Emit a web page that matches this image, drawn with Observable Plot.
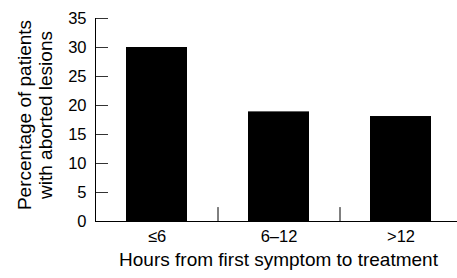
<!DOCTYPE html>
<html>
<head>
<meta charset="utf-8">
<script src="https://cdn.jsdelivr.net/npm/d3@7"></script>
<script src="https://cdn.jsdelivr.net/npm/@observablehq/plot@0.6"></script>
<style>
  html, body { margin: 0; padding: 0; background: #fff; }
  #chart svg { display: block; }
</style>
</head>
<body>
<div id="chart"></div>
<script>
const categories = ["≤6", "6–12", ">12"];
const values = [30, 18.9, 18.1];
const yTicks = [0, 5, 10, 15, 20, 25, 30, 35];
const xTitle = "Hours from first symptom to treatment";
const yTitle = "Percentage of patients\nwith aborted lesions";

const data = categories.map((c, i) => ({category: c, value: values[i]}));
const separators = categories.slice(0, -1);

const width = 457, height = 278;
const marginLeft = 95, marginRight = -4, marginTop = 18, marginBottom = 57;
const step = (width - marginLeft - marginRight) / categories.length;
const font = "'Liberation Sans', Arial, sans-serif";

const chart = Plot.plot({
  width, height, marginLeft, marginRight, marginTop, marginBottom,
  style: {fontFamily: font, fontSize: "16px", color: "#000", background: "#fff", overflow: "visible"},
  x: {domain: categories, paddingInner: 0.5, paddingOuter: 0.25, label: null},
  y: {domain: [0, 35], label: null},
  marks: [
    Plot.barY(data, {x: "category", y: "value", fill: "#000"}),
    Plot.ruleX(separators, {x: d => d, y1: 0, y2: 2.4, dx: step / 2, stroke: "#000", strokeWidth: 1}),
    Plot.axisY(yTicks, {tickSize: -13, text: null, label: null, stroke: "#333", strokeWidth: 1}),
    Plot.axisY(yTicks, {tickSize: 0, tickPadding: 9, label: null, fontSize: 16.5}),
    Plot.axisX({tickSize: 0, tickPadding: 9, fontSize: 16.5, label: null}),
    Plot.frame({anchor: "left", stroke: "#000"}),
    Plot.ruleY([0], {stroke: "#000"}),
    Plot.text([xTitle], {frameAnchor: "bottom", dy: 44, fontSize: 19, fill: "#000"}),
    Plot.text([yTitle], {frameAnchor: "left", textAnchor: "middle", lineAnchor: "middle", rotate: -90, dx: -61, dy: -5, fontSize: 19, lineHeight: 1.15, fill: "#000"})
  ]
});
document.getElementById("chart").appendChild(chart);
</script>
</body>
</html>
